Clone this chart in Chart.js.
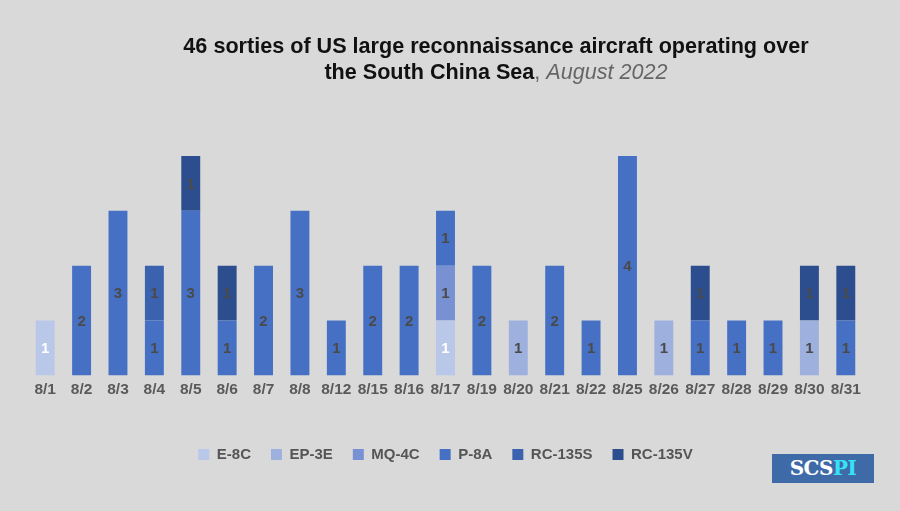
<!DOCTYPE html>
<html>
<head>
<meta charset="utf-8">
<script src="https://cdn.jsdelivr.net/npm/chart.js@4"></script>
<style>
  html, body { margin: 0; padding: 0; background: #d9d9d9; }
  #wrap { position: relative; width: 900px; height: 511px; background: #d9d9d9; overflow: hidden; }
  #title {
    position: absolute; left: 46px; top: 33px; width: 900px; text-align: center;
    font-family: "Liberation Sans", Arial, sans-serif; font-weight: bold; font-size: 21.6px;
    line-height: 26px; color: #111;
  }
  #title .sub { font-weight: normal; font-style: italic; color: #666; }
  #logo {
    position: absolute; left: 772px; top: 454px; width: 102px; height: 29px;
    background: #3f6aa8; text-align: center;
    font-family: "DejaVu Serif", "Liberation Serif", serif; font-weight: bold;
    font-size: 20px; line-height: 29px; color: #fff; letter-spacing: -0.5px;
  }
  #logo span { color: #35e3f5; }
  canvas { position: absolute; left: 0; top: 0; }
</style>
</head>
<body>
<div id="wrap">
  <canvas id="chart" width="900" height="511"></canvas>
  <div id="title">46 sorties of US large reconnaissance aircraft operating over<br>the South China Sea<span style="font-weight:normal;color:#666">,</span> <span class="sub">August 2022</span></div>
  <div id="logo">SCS<span>PI</span></div>
</div>
<script>
const dates = ["8/1","8/2","8/3","8/4","8/5","8/6","8/7","8/8","8/12","8/15","8/16","8/17",
               "8/19","8/20","8/21","8/22","8/25","8/26","8/27","8/28","8/29","8/30","8/31"];

//            8/1 8/2 8/3 8/4 8/5 8/6 8/7 8/8 8/12 8/15 8/16 8/17 8/19 8/20 8/21 8/22 8/25 8/26 8/27 8/28 8/29 8/30 8/31
const e8c   = [1,  0,  0,  0,  0,  0,  0,  0,  0,   0,   0,   1,   0,   0,   0,   0,   0,   0,   0,   0,   0,   0,   0];
const ep3e  = [0,  0,  0,  0,  0,  0,  0,  0,  0,   0,   0,   0,   0,   1,   0,   0,   0,   1,   0,   0,   0,   1,   0];
const mq4c  = [0,  0,  0,  0,  0,  0,  0,  0,  0,   0,   0,   1,   0,   0,   0,   0,   0,   0,   0,   0,   0,   0,   0];
const p8a   = [0,  2,  3,  1,  3,  1,  2,  3,  1,   2,   2,   1,   2,   0,   2,   1,   4,   0,   1,   1,   1,   0,   1];
const rc135s= [0,  0,  0,  1,  0,  0,  0,  0,  0,   0,   0,   0,   0,   0,   0,   0,   0,   0,   0,   0,   0,   0,   0];
const rc135v= [0,  0,  0,  0,  1,  1,  0,  0,  0,   0,   0,   0,   0,   0,   0,   0,   0,   0,   1,   0,   0,   1,   1];

const seriesNames  = ["E-8C", "EP-3E", "MQ-4C", "P-8A", "RC-135S", "RC-135V"];
const seriesData   = [e8c, ep3e, mq4c, p8a, rc135s, rc135v];
const seriesColors = ["#b9c7e8", "#9eb0de", "#7891d3", "#4670c4", "#3b62ae", "#2c4e8e"];
const labelColors  = ["#ffffff", "#4a4a4a", "#4a4a4a", "#4a4a4a", "#4a4a4a", "#4a4a4a"];

// draw the numbers inside each segment
const valueLabels = {
  id: "valueLabels",
  afterDatasetsDraw(chart) {
    const ctx = chart.ctx;
    ctx.save();
    ctx.font = "bold 15px 'Liberation Sans', Arial, sans-serif";
    ctx.textAlign = "center";
    ctx.textBaseline = "middle";
    chart.data.datasets.forEach((ds, i) => {
      const meta = chart.getDatasetMeta(i);
      meta.data.forEach((bar, j) => {
        const v = ds.data[j];
        if (!v) return;
        ctx.fillStyle = labelColors[i];
        ctx.fillText(v, bar.x, (bar.y + bar.base) / 2 + 1);
      });
    });
    ctx.restore();
  }
};

new Chart(document.getElementById("chart"), {
  type: "bar",
  data: {
    labels: dates,
    datasets: seriesNames.map((name, i) => ({
      label: name,
      data: seriesData[i],
      backgroundColor: seriesColors[i],
      borderWidth: 0,
      barPercentage: 1,
      categoryPercentage: 0.52
    }))
  },
  options: {
    responsive: false,
    animation: false,
    layout: { padding: { top: 156, left: 27, right: 36, bottom: 39 } },
    plugins: {
      tooltip: { enabled: false },
      legend: {
        position: "bottom",
        labels: {
          boxWidth: 11,
          boxHeight: 11,
          padding: 20,
          color: "#555",
          font: { family: "'Liberation Sans', Arial, sans-serif", size: 15, weight: "bold" }
        }
      }
    },
    scales: {
      x: {
        stacked: true,
        grid: { display: false },
        border: { display: false },
        afterFit: scale => { scale.height += 31; },
        ticks: {
          padding: -3,
          color: "#5a5a5a",
          maxRotation: 0,
          autoSkip: false,
          font: { family: "'Liberation Sans', Arial, sans-serif", size: 15.5, weight: "bold" }
        }
      },
      y: { stacked: true, display: false, min: 0, max: 4 }
    }
  },
  plugins: [valueLabels]
});
</script>
</body>
</html>
